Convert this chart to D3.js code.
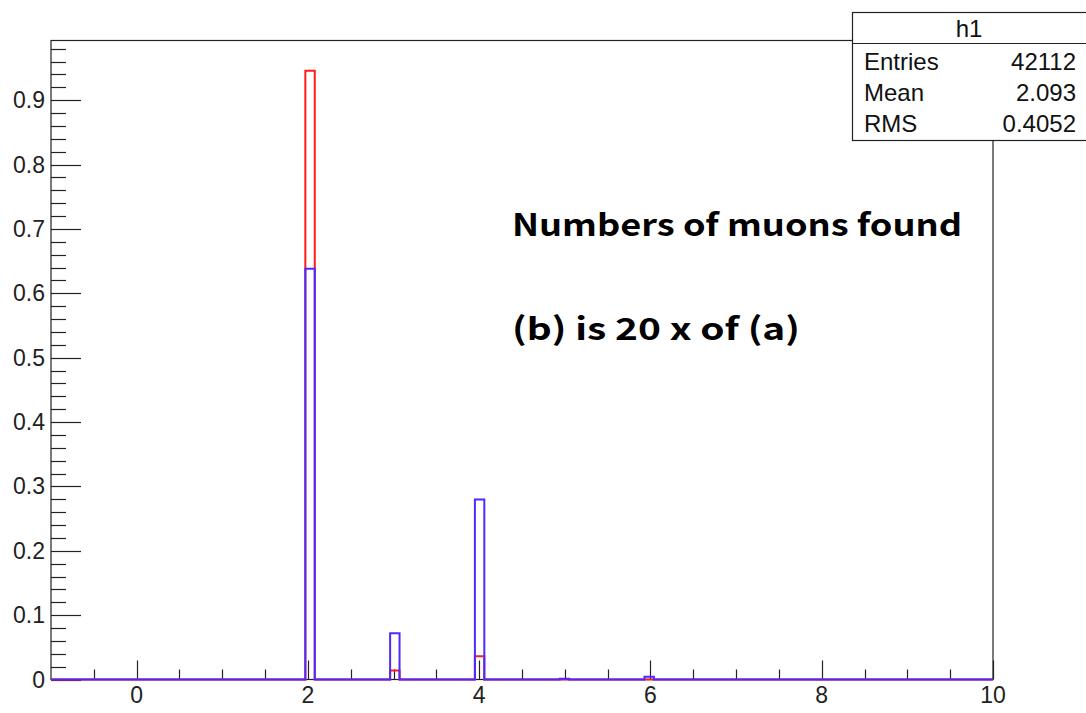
<!DOCTYPE html>
<html lang="en">
<head>
    <meta charset="UTF-8">
    <title>h1</title>
    <script src="https://cdn.jsdelivr.net/npm/d3@7/dist/d3.min.js"></script>
    <style>
        body { margin: 0; background: #fff; }
        svg { display: block; }
        .axisTxt { font-family: "Liberation Sans", Arial, sans-serif; font-size: 23px; fill: #222; }
        .statTxt { font-family: "Liberation Sans", Arial, sans-serif; font-size: 24px; fill: #111; }
        .note { font-family: "Noto Sans CJK JP", sans-serif; font-weight: 700; font-size: 31px; fill: #000; }
    </style>
</head>
<body>
<svg id="graphDiv"></svg>
<script>
    // histogram binning (100 bins from -1 to 10)
    var nBins = 100;
    var xMin = -1, xMax = 10;
    var yMax = 0.9927;

    // non-empty bins
    var binCenters = [2, 3, 4, 5, 6];
    var redValues = [0.9456, 0.014, 0.036, 0, 0];
    var blueValues = [0.638, 0.072, 0.2795, 0.001, 0.0042];

    var xTickLabels = [0, 2, 4, 6, 8, 10];
    var yTickLabels = [0, 0.1, 0.2, 0.3, 0.4, 0.5, 0.6, 0.7, 0.8, 0.9];

    var statNames = ["Entries", "Mean", "RMS"];
    var statValues = ["42112", "2.093", "0.4052"];
    var notes = ["Numbers of muons found", "(b) is 20 x of (a)"];

    function drawHist() {
        var W = 1086, H = 713;
        var pL = 51, pR = 993, pT = 40.5, pB = 679.5;
        var noteWidths = [450, 288];

        var svg = d3.select("#graphDiv").attr("width", W).attr("height", H);

        var x = d3.scaleLinear().domain([xMin, xMax]).range([pL, pR]);
        var y = d3.scaleLinear().domain([0, yMax]).range([pB, pT]);

        var bw = (xMax - xMin) / nBins;

        function fillBins(vals) {
            var arr = [];
            for (var i = 0; i < nBins; i++) arr.push(0);
            for (var k = 0; k < binCenters.length; k++) {
                var idx = Math.floor((binCenters[k] - xMin) / bw);
                arr[idx] = vals[k];
            }
            var pts = [];
            for (var i = 0; i < nBins; i++) pts.push([xMin + i * bw, arr[i]]);
            pts.push([xMax, arr[nBins - 1]]);
            return pts;
        }

        // frame
        svg.append("rect")
            .attr("x", pL).attr("y", pT)
            .attr("width", pR - pL).attr("height", pB - pT)
            .attr("fill", "none").attr("stroke", "#222").attr("stroke-width", 1.2);

        // y ticks
        var yMinor = d3.range(0, 50).map(function (i) { return i * 0.02; });
        svg.selectAll(".yminor").data(yMinor).enter().append("line")
            .attr("x1", pL).attr("x2", function (d, i) {
                return i % 5 === 0 ? pL + 30 : pL + 15;
            })
            .attr("y1", function (d) { return Math.round(y(d)) + 0.5; })
            .attr("y2", function (d) { return Math.round(y(d)) + 0.5; })
            .attr("stroke", "#222").attr("stroke-width", 1.2);

        svg.selectAll(".ylab").data(yTickLabels).enter().append("text")
            .attr("class", "axisTxt")
            .attr("x", 45).attr("y", function (d) { return y(d) + 8; })
            .attr("text-anchor", "end")
            .text(function (d) { return d; });

        // x ticks
        var xMinor = d3.range(0, 22).map(function (i) { return -0.5 + i * 0.5; });
        svg.selectAll(".xminor").data(xMinor).enter().append("line")
            .attr("x1", function (d) { return Math.round(x(d)) + 0.5; })
            .attr("x2", function (d) { return Math.round(x(d)) + 0.5; })
            .attr("y1", pB)
            .attr("y2", function (d) { return d % 2 === 0 ? pB - 19 : pB - 10; })
            .attr("stroke", "#222").attr("stroke-width", 1.2);

        svg.selectAll(".xlab").data(xTickLabels).enter().append("text")
            .attr("class", "axisTxt")
            .attr("x", function (d) { return x(d); }).attr("y", 703)
            .attr("text-anchor", "middle")
            .text(function (d) { return d; });

        // histograms
        var line = d3.line()
            .x(function (d) { return x(d[0]); })
            .y(function (d) { return y(d[1]); })
            .curve(d3.curveStepAfter);

        svg.append("path").datum(fillBins(redValues))
            .attr("d", line).attr("fill", "none")
            .attr("stroke", "#ff1a1a").attr("stroke-width", 2);

        svg.append("path").datum(fillBins(blueValues))
            .attr("d", line).attr("fill", "none")
            .attr("stroke", "#4d2bff").attr("stroke-width", 2);

        // notes
        svg.selectAll(".note").data(notes).enter().append("text")
            .attr("class", "note")
            .attr("x", 512)
            .attr("y", function (d, i) { return 236 + i * 104; })
            .attr("textLength", function (d, i) { return noteWidths[i]; })
            .attr("lengthAdjust", "spacingAndGlyphs")
            .text(function (d) { return d; });

        // stats box
        var box = svg.append("g");
        box.append("rect")
            .attr("x", 852.5).attr("y", 12.5).attr("width", 250).attr("height", 128)
            .attr("fill", "#fff").attr("stroke", "#222").attr("stroke-width", 1.2);
        box.append("line")
            .attr("x1", 852.5).attr("x2", 1100).attr("y1", 43.5).attr("y2", 43.5)
            .attr("stroke", "#222").attr("stroke-width", 1.2);
        box.append("text").attr("class", "statTxt")
            .attr("x", 969).attr("y", 37).attr("text-anchor", "middle").text("h1");
        box.selectAll(".sn").data(statNames).enter().append("text")
            .attr("class", "statTxt")
            .attr("x", 864).attr("y", function (d, i) { return 70 + i * 31; })
            .text(function (d) { return d; });
        box.selectAll(".sv").data(statValues).enter().append("text")
            .attr("class", "statTxt")
            .attr("x", 1076).attr("y", function (d, i) { return 70 + i * 31; })
            .attr("text-anchor", "end")
            .text(function (d) { return d; });
    }

    drawHist();
</script>
</body>
</html>
